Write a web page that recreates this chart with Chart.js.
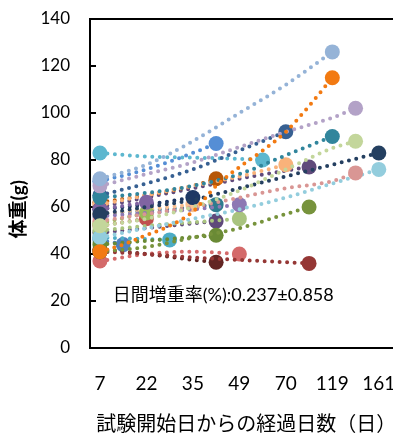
<!DOCTYPE html>
<html>
<head>
<meta charset="utf-8">
<script src="https://cdn.jsdelivr.net/npm/chart.js@4.4.1/dist/chart.umd.min.js"></script>
<style>
  html, body { margin: 0; padding: 0; background: #fff; overflow: hidden; }
  #wrap { width: 410px; height: 441px; }
</style>
</head>
<body>
<div id="wrap"><canvas id="chart" width="410" height="441"></canvas></div>
<script>
/* Body weight of each animal vs. days since start of test */

const dayLabels = ['7', '22', '35', '49', '70', '119', '161'];
const yTitle = '体重(g)';
const xTitle = '試験開始日からの経過日数（日）';
const note = '日間増重率(%):0.237±0.858';

// one array per animal, 13 weighing slots (null = no reading)
const s01 = [72, null, 78, null, 88, null, 100, null, 112, null, 126];
const s02 = [41, 44, 48, 52, 58, 69, 77, 84, 92, 103, 115];
const s03 = [69, null, 74, null, 79, null, 85.5, null, 92, null, 98, 102];
const s04 = [64, null, 66, null, 69, null, 74, null, 82, null, 90];
const s05 = [52, null, 55, null, 60, null, 67, null, 76, null, 85, 88];
const s06 = [57, null, 60, null, 63, null, 68, null, 73, null, 78, null, 83];
const s07 = [54, null, 57, null, 60, null, 64, null, 68, null, 71, 74.5];
const s08 = [47, null, 51, null, 55, null, 59, null, 64, null, 70, null, 76];
const s09 = [41, null, 43, null, 47, null, 51, null, 57, 60];
const s10 = [44, null, null, null, null, 48];
const s11 = [41, null, 40, null, 38.5, null, 37.5, null, 36.5, 36];
const s12 = [42, null, 40, null, 37.5, 36.5];
const s13 = [37, null, 40, null, 41, null, 40];
const s14 = [71, null, 76, null, 83, 87];
const s15 = [65, null, 70, null, 76, null, 84, null, 92];
const s16 = [83, null, 81.5, null, 81, null, 80.5, 80];
const s17 = [47, null, null, 46];
const s18 = [46, 44];
const s19 = [59, null, 62];
const s20 = [56, null, 57.5, null, 59, null, 61];
const s21 = [53, null, 57.5];
const s22 = [50, null, 52, null, 53.5, null, 55];
const s23 = [52, null, 55];
const s24 = [59, null, 61, null, 64];
const s25 = [57, null, 59, null, 61];
const s26 = [61, null, 65, null, 69, null, 73, null, 78];
const s27 = [62, null, 65, null, 69, 72];
const s28 = [57, null, 58.5, null, 60, 61];
const s29 = [49, null, 51, null, 53, 54];
const s30 = [60, null, 64, null, 68, null, 72, null, 75.5, 77];

const seriesList = [s01, s02, s03, s04, s05, s06, s07, s08, s09, s10, s11, s12, s13, s14, s15,
                    s16, s17, s18, s19, s20, s21, s22, s23, s24, s25, s26, s27, s28, s29, s30];
const seriesColors = [
  '#95B3D7', '#F27A12', '#B3A2C7', '#31859C', '#C3D69B', '#243F60', '#D99694', '#93CDDD',
  '#77933C', '#6A8A35', '#953735', '#632523', '#D46A6A', '#558ED5', '#376092',
  '#5DB7CF', '#4BACC6', '#4F81BD', '#8064A2', '#8D78B3', '#9BBB59', '#A9C47F', '#C0504D',
  '#1F3864', '#FAC090', '#F9B27A', '#B65708', '#2E7C8F', '#5F497A', '#604A7B'
];

const datasets = seriesList.map((vals, k) => {
  const pts = [];
  vals.forEach((v, i) => { if (v !== null) pts.push({ x: i, y: v }); });
  return {
    data: pts,
    borderColor: seriesColors[k],
    backgroundColor: seriesColors[k],
    borderWidth: 4,
    borderDash: [0, 7.5],
    borderCapStyle: 'round',
    cubicInterpolationMode: 'monotone',
    pointRadius: ctx => (ctx.dataIndex === 0 || ctx.dataIndex === pts.length - 1) ? 7.5 : 0,
    pointBorderWidth: 0,
    pointHoverRadius: 0,
    clip: false,
  };
});

const FONT = 'Lato, "Noto Sans CJK JP", sans-serif';

// inside tick marks on the value axis, the y title and the growth-rate note
const extras = {
  id: 'extras',
  beforeDatasetsDraw(chart) {
    const { ctx, scales: { x, y } } = chart;
    ctx.save();
    ctx.strokeStyle = '#000';
    ctx.lineWidth = 2;
    y.ticks.forEach(t => {
      const py = y.getPixelForValue(t.value);
      ctx.beginPath();
      ctx.moveTo(x.left, py);
      ctx.lineTo(x.left + 6, py);
      ctx.stroke();
    });
    ctx.restore();
  },
  afterDraw(chart) {
    const { ctx, scales: { x, y } } = chart;
    ctx.save();
    ctx.fillStyle = '#000';
    ctx.font = '18px ' + FONT;
    ctx.textBaseline = 'middle';
    ctx.fillText(note, x.getPixelForValue(0.55), y.getPixelForValue(22.5));

    ctx.translate(19, y.getPixelForValue(59));
    ctx.rotate(-Math.PI / 2);
    ctx.textAlign = 'center';
    ctx.font = 'bold 19px ' + FONT;
    ctx.fillText(yTitle, 0, 0);
    ctx.restore();
  }
};

Chart.defaults.font.family = FONT;
Chart.defaults.color = '#000';

new Chart(document.getElementById('chart'), {
  type: 'line',
  data: { datasets },
  options: {
    responsive: false,
    animation: false,
    events: [],
    layout: { padding: { top: 19, right: 5, bottom: 0, left: 0 } },
    plugins: { legend: { display: false }, tooltip: { enabled: false } },
    scales: {
      x: {
        type: 'linear',
        min: -0.427,
        max: 13.02,
        afterBuildTicks: s => { s.ticks = dayLabels.map((d, i) => ({ value: i * 2 })); },
        afterFit: s => { s.height = 93; s.paddingLeft = 0; s.paddingRight = 0; },
        grid: { display: false, drawTicks: false },
        border: { color: '#000', width: 2 },
        ticks: {
          autoSkip: false,
          maxRotation: 0,
          padding: 24,
          font: { size: 19 },
          callback: v => dayLabels[v / 2],
        },
        title: { display: true, text: xTitle, font: { size: 20 }, padding: { top: 0, bottom: 4 } },
      },
      y: {
        min: 0,
        max: 140,
        afterFit: s => { s.width = 90; s.paddingTop = 0; s.paddingBottom = 0; },
        grid: {
          drawTicks: false,
          lineWidth: 2,
          color: ctx => ctx.tick && ctx.tick.value === 140 ? '#000' : 'rgba(0,0,0,0)',
        },
        border: { color: '#000', width: 2 },
        ticks: { stepSize: 20, padding: 20, font: { size: 17 } },
      },
    },
  },
  plugins: [extras],
});
</script>
</body>
</html>
